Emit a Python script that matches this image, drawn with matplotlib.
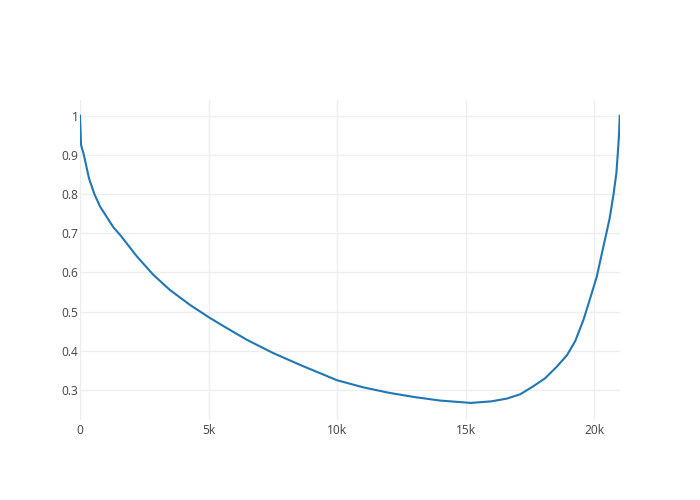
import matplotlib
matplotlib.use("Agg")
import matplotlib.pyplot as plt

x_vals = [0, 40, 150, 350, 560, 780, 1300, 1556, 2210, 2850, 3500, 4280, 5000, 5450, 6490,
          7520, 8560, 9990, 11000, 12000, 13000, 14000, 15200, 16000, 16600, 17120, 17640,
          18090, 18550, 18940, 19260, 19580, 19840, 20100, 20300, 20470, 20600, 20750,
          20860, 20910, 20960, 20990]
y_vals = [1.0, 0.926, 0.9, 0.84, 0.8, 0.768, 0.715, 0.696, 0.641, 0.594, 0.555, 0.517, 0.486,
          0.468, 0.428, 0.394, 0.364, 0.325, 0.307, 0.293, 0.282, 0.273, 0.267, 0.271,
          0.278, 0.289, 0.31, 0.33, 0.36, 0.389, 0.425, 0.479, 0.534, 0.59, 0.65, 0.7,
          0.739, 0.8, 0.854, 0.9, 0.95, 1.0]

x_ticks = [0, 5000, 10000, 15000, 20000]
x_tick_labels = ["0", "5k", "10k", "15k", "20k"]
y_ticks = [0.3, 0.4, 0.5, 0.6, 0.7, 0.8, 0.9, 1.0]
y_tick_labels = ["0.3", "0.4", "0.5", "0.6", "0.7", "0.8", "0.9", "1"]

plt.rcParams['font.family'] = ['Open Sans', 'DejaVu Sans']

fig = plt.figure(figsize=(7, 5), dpi=100)
ax = fig.add_axes([80/700, 80/500, 540/700, 320/500])
ax.plot(x_vals, y_vals, color="#1f77b4", linewidth=1.5, solid_joinstyle="round")
ax.set_xlim(0, 21000)
ax.set_ylim(0.2234, 1.040)
ax.set_xticks(x_ticks)
ax.set_xticklabels(x_tick_labels)
ax.set_yticks(y_ticks)
ax.set_yticklabels(y_tick_labels)
ax.grid(True, color="#eeeeee", linewidth=1)
ax.set_axisbelow(True)
for s in ax.spines.values():
    s.set_visible(False)
ax.tick_params(axis="both", length=0, labelsize=8.64, labelcolor="#444444")
ax.tick_params(axis="y", pad=1.2)
ax.tick_params(axis="x", pad=2.7)
fig.savefig("out.png", dpi=100)
